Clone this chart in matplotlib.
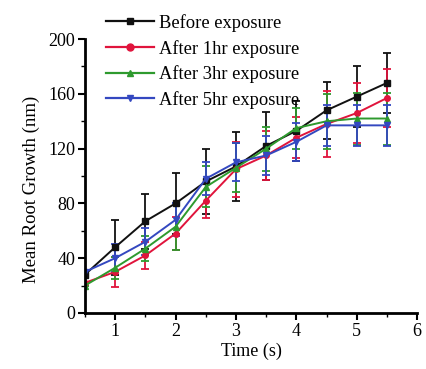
import numpy as np
import matplotlib
matplotlib.use("Agg")
import matplotlib.pyplot as plt
from matplotlib.lines import Line2D

plt.rcParams['font.family'] = ['Liberation Serif', 'DejaVu Serif']

time_s = [0.5, 1, 1.5, 2, 2.5, 3, 3.5, 4, 4.5, 5, 5.5]

before = [28, 48, 67, 80, 96, 107, 122, 133, 148, 158, 168]
before_err = [0, 20, 20, 22, 24, 25, 25, 22, 21, 22, 22]

after1 = [22, 30, 42, 58, 82, 105, 115, 128, 138, 146, 157]
after1_err = [0, 11, 10, 12, 13, 20, 18, 15, 24, 22, 21]

after3 = [20, 33, 47, 63, 92, 106, 120, 135, 140, 142, 142]
after3_err = [0, 8, 9, 17, 15, 18, 16, 15, 20, 19, 19]

after5 = [30, 40, 52, 68, 98, 110, 115, 125, 137, 137, 137]
after5_err = [0, 10, 10, 12, 12, 14, 14, 14, 15, 15, 15]

labels = ['Before exposure', 'After 1hr exposure', 'After 3hr exposure', 'After 5hr exposure']
colors = ['#111111', '#e0143c', '#2e9a2e', '#3448c0']
markers = ['s', 'o', '^', 'v']

fig = plt.figure(figsize=(4.27, 3.69), dpi=100)
ax = fig.add_axes([0.199, 0.152, 0.778, 0.742])

series = [(before, before_err), (after1, after1_err), (after3, after3_err), (after5, after5_err)]
handles = []
for (vals, err), lab, c, m in zip(series, labels, colors, markers):
    ax.errorbar(time_s, vals, yerr=err, color=c, marker=m, markersize=4,
                linewidth=1.4, elinewidth=1.3, capsize=3, capthick=1.3)
    handles.append(Line2D([], [], color=c, marker=m, markersize=5, linewidth=1.6))

ax.set_xlim(0.5, 6)
ax.set_ylim(0, 200)
ax.set_xticks([1, 2, 3, 4, 5, 6])
ax.set_xticks(np.arange(0.5, 6.01, 0.5), minor=True)
ax.set_yticks([0, 40, 80, 120, 160, 200])
ax.set_yticks(np.arange(0, 201, 20), minor=True)
ax.spines['top'].set_visible(False)
ax.spines['right'].set_visible(False)
ax.spines['left'].set_linewidth(2)
ax.spines['bottom'].set_linewidth(2)
ax.tick_params(axis='both', which='major', direction='out', length=5, width=1.5, labelsize=13, pad=2)
ax.tick_params(axis='both', which='minor', direction='out', length=3, width=1)
ax.set_xlabel('Time (s)', fontsize=13, labelpad=2)
ax.set_ylabel('Mean Root Growth (nm)', fontsize=13.5)
ax.yaxis.set_label_coords(-0.135, 0.45)

fig.legend(handles, labels, loc='upper left', bbox_to_anchor=(0.23, 0.982), frameon=False,
           fontsize=13.3, handlelength=2.6, labelspacing=0.42, handletextpad=0.3, borderaxespad=0)

fig.savefig('out.png', dpi=100)
